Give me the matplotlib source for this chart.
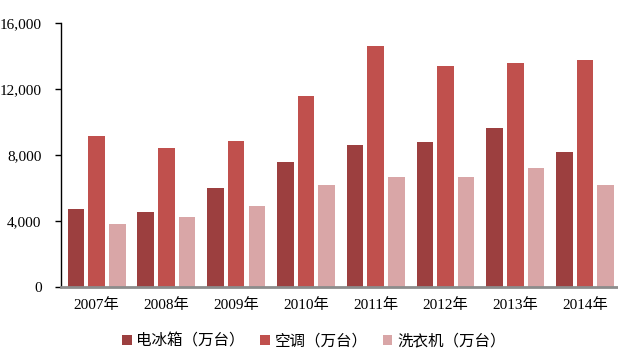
import matplotlib
matplotlib.use("Agg")
import matplotlib.pyplot as plt
import numpy as np

years = ["2007年", "2008年", "2009年", "2010年", "2011年", "2012年", "2013年", "2014年"]
fridge = [4700, 4550, 6000, 7580, 8600, 8790, 9640, 8180]
aircon = [9150, 8430, 8850, 11580, 14610, 13390, 13580, 13760]
washer = [3830, 4240, 4910, 6180, 6670, 6670, 7210, 6150]
series_names = ["电冰箱（万台）", "空调（万台）", "洗衣机（万台）"]
colors = ["#9C3F3F", "#C0504D", "#D9A6A7"]

fonts = ["Liberation Serif", "Noto Sans CJK SC"]
plt.rcParams["font.family"] = fonts

fig = plt.figure(figsize=(6.18, 3.52), dpi=100)
ax = fig.add_axes([61 / 618, 1 - 287 / 352, 1 - 61 / 618, (287 - 22.7) / 352])

x = np.arange(len(years))
w = 0.237
off = 0.297
for i, (vals, name, c) in enumerate(zip([fridge, aircon, washer], series_names, colors)):
    ax.bar(x + (i - 1) * off, vals, width=w, color=c, label=name, zorder=2)

ax.set_xlim(-0.512, 7.473)
ax.set_ylim(0, 16000)
ax.set_yticks([0, 4000, 8000, 12000, 16000])
ax.set_yticklabels(["0", "4,000", "8,000", "12,000", "16,000"], fontsize=11)
ax.set_xticks(x)
ax.set_xticklabels(years, fontsize=11)
ax.tick_params(axis="x", length=0, pad=8)
ax.tick_params(axis="y", length=4, width=1, direction="out", pad=10)

for s in ["top", "right"]:
    ax.spines[s].set_visible(False)
ax.spines["left"].set_color("black")
ax.spines["left"].set_linewidth(1)
ax.spines["bottom"].set_color("#8C8C8C")
ax.spines["bottom"].set_linewidth(2)
ax.spines["bottom"].set_zorder(3)

fig.legend(loc="center", bbox_to_anchor=(0.508, 0.031), ncol=3, frameon=False,
           fontsize=11.2, handlelength=0.6, handleheight=0.6, handletextpad=0.3,
           columnspacing=1.0)

fig.savefig("out.png", dpi=100)
